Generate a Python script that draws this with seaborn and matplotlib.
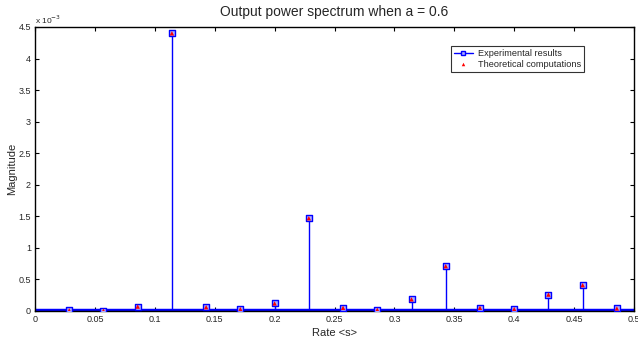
import numpy as np
import pandas as pd
import matplotlib
matplotlib.use("Agg")
import matplotlib.pyplot as plt
import seaborn as sns
from matplotlib.ticker import FuncFormatter, MultipleLocator
from matplotlib.lines import Line2D

# Rate bins k/35 and spectrum magnitudes
rate = [1/35, 2/35, 3/35, 4/35, 5/35, 6/35, 7/35, 8/35, 9/35, 10/35,
        11/35, 12/35, 13/35, 14/35, 15/35, 16/35, 17/35]
experimental = [0.010e-3, 0.006e-3, 0.070e-3, 4.40e-3, 0.060e-3, 0.030e-3,
                0.120e-3, 1.47e-3, 0.050e-3, 0.020e-3, 0.185e-3, 0.710e-3,
                0.050e-3, 0.030e-3, 0.260e-3, 0.410e-3, 0.040e-3]
theoretical = [0.010e-3, 0.006e-3, 0.070e-3, 4.40e-3, 0.060e-3, 0.030e-3,
               0.120e-3, 1.47e-3, 0.050e-3, 0.020e-3, 0.185e-3, 0.710e-3,
               0.050e-3, 0.030e-3, 0.260e-3, 0.410e-3, 0.040e-3]

df = pd.DataFrame({"rate": rate, "exp": experimental, "theo": theoretical})

sns.set_style("ticks")
plt.rcParams["font.family"] = ["Liberation Sans", "DejaVu Sans"]

fig = plt.figure(figsize=(6.38, 3.43), dpi=100)
ax = fig.add_axes([35/638, 1 - 311/343, 599/638, 284/343])

# stems and baseline
ax.vlines(df["rate"], 0, df["exp"], color="#0000ff", lw=1.0, zorder=2)
ax.plot([0, 0.5], [0, 0], color="#0000ff", lw=3.2, zorder=2, solid_capstyle="butt")

sns.scatterplot(data=df, x="rate", y="exp", ax=ax, marker="s", s=16,
                facecolor="#b0b0ff", edgecolor="#0000ff", linewidth=1.0,
                zorder=3, legend=False)
sns.scatterplot(data=df, x="rate", y="theo", ax=ax, marker="^", s=10,
                color="#ff0000", edgecolor="none", zorder=4, legend=False)

ax.set_xlim(0, 0.5)
ax.set_ylim(0, 4.5e-3)
ax.xaxis.set_major_locator(MultipleLocator(0.05))
ax.yaxis.set_major_locator(MultipleLocator(0.5e-3))
ax.xaxis.set_major_formatter(FuncFormatter(lambda v, p: f"{v:g}"))
ax.yaxis.set_major_formatter(FuncFormatter(lambda v, p: f"{v*1e3:g}"))

for s in ax.spines.values():
    s.set_visible(True)
    s.set_color("black")
    s.set_linewidth(1.0)
ax.tick_params(direction="in", length=3, width=0.8, labelsize=6.5,
               top=True, right=True, pad=3, color="black")

ax.text(0, 1.005, "x 10$^{-3}$", transform=ax.transAxes, fontsize=6,
        ha="left", va="bottom")
ax.set_title("Output power spectrum when a = 0.6", fontsize=10, pad=8)
ax.set_xlabel("Rate <s>", fontsize=8, labelpad=3)
ax.set_ylabel("Magnitude", fontsize=8, labelpad=1)

handles = [
    Line2D([], [], color="#0000ff", lw=1.0, marker="s", markersize=3,
           markerfacecolor="#b0b0ff", markeredgecolor="#0000ff"),
    Line2D([], [], color="none", marker="^", markersize=2.5,
           markerfacecolor="#ff0000", markeredgecolor="none"),
]
leg = ax.legend(handles, ["Experimental results", "Theoretical computations"],
                loc="upper right", bbox_to_anchor=(0.925, 0.95), fontsize=6.6,
                frameon=True, fancybox=False, edgecolor="black",
                handlelength=2.0, handletextpad=0.6, borderpad=0.35,
                labelspacing=0.25)
leg.get_frame().set_linewidth(0.8)

fig.savefig("out.png", dpi=100)
